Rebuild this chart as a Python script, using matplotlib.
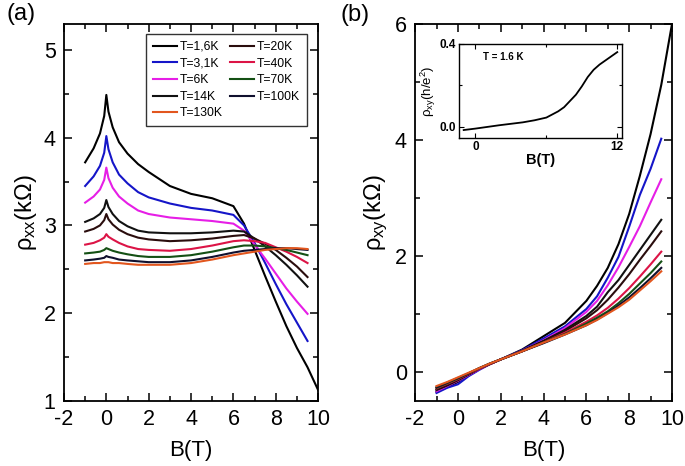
import numpy as np
import matplotlib
matplotlib.use("Agg")
from matplotlib import pyplot as plt
from matplotlib.ticker import MultipleLocator

plt.rcParams['font.family'] = ['Liberation Sans', 'DejaVu Sans']
plt.rcParams['mathtext.fontset'] = 'custom'
plt.rcParams['mathtext.rm'] = 'Liberation Sans'
plt.rcParams['mathtext.it'] = 'Liberation Sans:italic'
plt.rcParams['mathtext.bf'] = 'Liberation Sans:bold'
plt.rcParams['axes.unicode_minus'] = False

# legend labels and colours
temps = ["T=1,6K", "T=3,1K", "T=6K", "T=14K", "T=20K", "T=40K", "T=70K", "T=100K", "T=130K"]
colors = ["#000000", "#1515c8", "#e61ee6", "#111111", "#2a0d0d", "#dc1446", "#145014", "#10102e", "#e2561e"]

# (a) rho_xx vs B
B_a = [-1, -0.6, -0.3, -0.1, 0, 0.1, 0.3, 0.6, 1, 1.5, 2, 3, 4, 5, 6, 6.5, 7, 7.5, 8, 8.5, 9, 9.5]
B_a16 = B_a + [10]
rxx_16 = [3.72, 3.88, 4.05, 4.25, 4.49, 4.30, 4.12, 3.95, 3.82, 3.70, 3.61, 3.45, 3.36, 3.31, 3.22, 3.02, 2.72, 2.42, 2.13, 1.85, 1.60, 1.38, 1.12]
rxx_31 = [3.45, 3.56, 3.68, 3.83, 4.02, 3.87, 3.72, 3.58, 3.48, 3.38, 3.32, 3.25, 3.20, 3.17, 3.12, 3.00, 2.80, 2.57, 2.33, 2.10, 1.89, 1.68]
rxx_6 = [3.26, 3.33, 3.41, 3.52, 3.66, 3.54, 3.43, 3.33, 3.25, 3.17, 3.13, 3.09, 3.07, 3.05, 3.02, 2.94, 2.78, 2.62, 2.45, 2.28, 2.13, 1.99]
rxx_14 = [3.04, 3.08, 3.13, 3.20, 3.29, 3.21, 3.13, 3.05, 2.99, 2.94, 2.92, 2.91, 2.91, 2.92, 2.94, 2.93, 2.85, 2.76, 2.66, 2.55, 2.43, 2.30]
rxx_20 = [2.93, 2.96, 3.00, 3.06, 3.13, 3.07, 3.01, 2.95, 2.90, 2.86, 2.84, 2.82, 2.83, 2.85, 2.88, 2.89, 2.85, 2.79, 2.72, 2.63, 2.53, 2.41]
rxx_40 = [2.78, 2.80, 2.83, 2.86, 2.90, 2.87, 2.84, 2.80, 2.76, 2.73, 2.72, 2.71, 2.73, 2.77, 2.82, 2.83, 2.82, 2.80, 2.75, 2.70, 2.64, 2.57]
rxx_70 = [2.68, 2.69, 2.70, 2.72, 2.74, 2.73, 2.71, 2.69, 2.67, 2.65, 2.64, 2.64, 2.66, 2.70, 2.75, 2.77, 2.77, 2.76, 2.74, 2.72, 2.69, 2.66]
rxx_100 = [2.60, 2.61, 2.62, 2.63, 2.65, 2.64, 2.63, 2.61, 2.60, 2.59, 2.58, 2.58, 2.60, 2.64, 2.69, 2.71, 2.72, 2.73, 2.74, 2.74, 2.73, 2.72]
rxx_130 = [2.56, 2.57, 2.57, 2.58, 2.58, 2.58, 2.57, 2.57, 2.56, 2.55, 2.55, 2.55, 2.57, 2.61, 2.66, 2.68, 2.70, 2.72, 2.73, 2.74, 2.74, 2.73]

# (b) rho_xy vs B
B_b = [-1, -0.5, 0, 0.5, 1, 1.5, 2, 3, 4, 5, 6, 6.5, 7, 7.5, 8, 8.5, 9, 9.5]
B_b16 = B_b + [10]
rxy_16 = [-0.35, -0.27, -0.18, -0.06, 0.04, 0.13, 0.21, 0.38, 0.61, 0.84, 1.22, 1.48, 1.79, 2.20, 2.72, 3.38, 4.10, 4.95, 6.0]
rxy_31 = [-0.37, -0.28, -0.22, -0.08, 0.03, 0.13, 0.21, 0.37, 0.57, 0.78, 1.08, 1.30, 1.62, 1.98, 2.50, 3.05, 3.50, 4.02]
rxy_6 = [-0.34, -0.25, -0.16, -0.06, 0.04, 0.13, 0.21, 0.36, 0.54, 0.75, 1.03, 1.22, 1.49, 1.80, 2.15, 2.51, 2.92, 3.32]
rxy_14 = [-0.32, -0.24, -0.15, -0.05, 0.05, 0.13, 0.21, 0.36, 0.53, 0.72, 0.96, 1.12, 1.37, 1.58, 1.84, 2.10, 2.36, 2.62]
rxy_20 = [-0.31, -0.23, -0.14, -0.05, 0.05, 0.13, 0.21, 0.35, 0.52, 0.70, 0.92, 1.06, 1.24, 1.45, 1.68, 1.93, 2.17, 2.42]
rxy_40 = [-0.29, -0.21, -0.13, -0.04, 0.05, 0.13, 0.21, 0.35, 0.50, 0.67, 0.86, 0.97, 1.10, 1.26, 1.44, 1.64, 1.85, 2.07]
rxy_70 = [-0.28, -0.20, -0.12, -0.03, 0.06, 0.14, 0.21, 0.35, 0.50, 0.65, 0.83, 0.93, 1.04, 1.18, 1.34, 1.52, 1.70, 1.90]
rxy_100 = [-0.27, -0.19, -0.11, -0.03, 0.06, 0.14, 0.21, 0.35, 0.49, 0.64, 0.80, 0.90, 1.01, 1.14, 1.28, 1.44, 1.61, 1.79]
rxy_130 = [-0.25, -0.18, -0.10, -0.02, 0.06, 0.14, 0.21, 0.35, 0.50, 0.64, 0.80, 0.89, 1.00, 1.11, 1.24, 1.40, 1.56, 1.73]

# inset: rho_xy in h/e^2 at 1.6 K
B_in = [-1, 0, 1, 2, 3, 4, 5, 6, 7, 7.5, 8, 8.5, 9, 9.5, 10, 10.5, 11, 11.5, 12]
rxy_in = [-0.015, -0.008, 0.000, 0.008, 0.015, 0.022, 0.032, 0.045, 0.075, 0.095, 0.125, 0.155, 0.195, 0.24, 0.275, 0.30, 0.32, 0.34, 0.36]

rxx_all = [rxx_16, rxx_31, rxx_6, rxx_14, rxx_20, rxx_40, rxx_70, rxx_100, rxx_130]
rxy_all = [rxy_16, rxy_31, rxy_6, rxy_14, rxy_20, rxy_40, rxy_70, rxy_100, rxy_130]


def style_axes(ax, big=True):
	for s in ax.spines.values():
		s.set_linewidth(1.3 if big else 1.0)
	ax.tick_params(which="both", direction="in", top=True, right=True,
		labelsize=15.5 if big else 8.5, width=1.1 if big else 0.8)
	ax.tick_params(which="major", length=6 if big else 3.5, pad=6 if big else 2)
	ax.tick_params(which="minor", length=3.5 if big else 2)


fig = plt.figure(figsize=(6.85, 4.66), dpi=100)

axa = fig.add_axes([0.0934, 0.1405, 0.371, 0.808])
lines = []
for i in range(9):
	xs = B_a16 if i == 0 else B_a
	l, = axa.plot(xs, rxx_all[i], color=colors[i], lw=1.5, label=temps[i])
	lines.append(l)
axa.set_xlim(-2, 10)
axa.set_ylim(1, 5.3)
axa.xaxis.set_major_locator(MultipleLocator(2))
axa.xaxis.set_minor_locator(MultipleLocator(1))
axa.yaxis.set_major_locator(MultipleLocator(1))
axa.yaxis.set_minor_locator(MultipleLocator(0.5))
style_axes(axa)
axa.set_xlabel("B(T)", fontsize=16, labelpad=7)
axa.set_ylabel(r"$\mathrm{\rho}_{\mathrm{xx}}$(k$\Omega$)", fontsize=17, labelpad=3)
order = [0, 1, 2, 3, 8, 4, 5, 6, 7]
leg = axa.legend([lines[k] for k in order], [temps[k] for k in order], ncol=2,
	loc="upper right", bbox_to_anchor=(0.955, 0.973), borderaxespad=0, fontsize=8.8,
	frameon=True, fancybox=False, edgecolor="black", handlelength=2.0,
	handletextpad=0.2, columnspacing=0.6, labelspacing=0.38, borderpad=0.55)
leg.get_frame().set_linewidth(1.0)

axb = fig.add_axes([0.606, 0.1405, 0.375, 0.808])
for i in range(9):
	xs = B_b16 if i == 0 else B_b
	axb.plot(xs, rxy_all[i], color=colors[i], lw=1.5)
axb.set_xlim(-2, 10)
axb.set_ylim(-0.5, 6)
axb.xaxis.set_major_locator(MultipleLocator(2))
axb.xaxis.set_minor_locator(MultipleLocator(1))
axb.yaxis.set_major_locator(MultipleLocator(2))
axb.yaxis.set_minor_locator(MultipleLocator(1))
style_axes(axb)
axb.set_xlabel("B(T)", fontsize=16, labelpad=7)
axb.set_ylabel(r"$\mathrm{\rho}_{\mathrm{xy}}$(k$\Omega$)", fontsize=17, labelpad=3)

axi = fig.add_axes([0.670, 0.704, 0.238, 0.202])
axi.plot(B_in, rxy_in, color="black", lw=1.3)
axi.set_xlim(-1.4, 12.4)
axi.set_ylim(-0.053, 0.4)
axi.set_xticks([0, 12])
axi.set_xticks([6], minor=True)
axi.set_yticks([0.0, 0.4])
axi.set_yticks([0.2], minor=True)
axi.set_yticklabels(["0.0", "0.4"])
style_axes(axi, big=False)
for t in axi.get_xticklabels() + axi.get_yticklabels():
	t.set_fontweight("bold")
axi.set_xlabel("B(T)", fontsize=10.5, fontweight="bold", labelpad=0)
axi.set_ylabel(r"$\mathrm{\rho}_{\mathrm{xy}}$(h/e$^2$)", fontsize=9.5, labelpad=1)
axi.text(0.15, 0.86, "T = 1.6 K", transform=axi.transAxes, fontsize=7, fontweight="bold", va="center")

fig.text(7 / 685, 1 - 14 / 466, "(a)", fontsize=17, va="center", ha="left")
fig.text(340 / 685, 1 - 15 / 466, "(b)", fontsize=17, va="center", ha="left")

fig.savefig("out.png", dpi=100)
